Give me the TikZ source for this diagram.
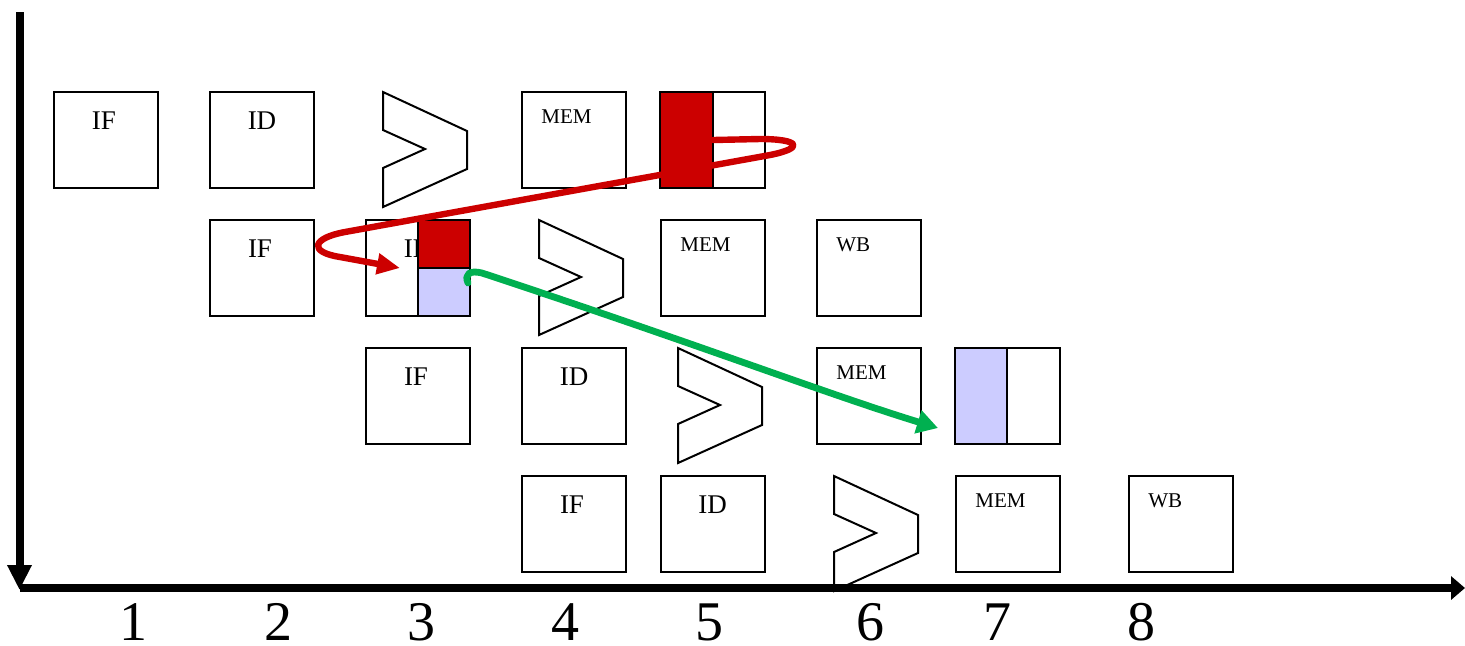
\documentclass[tikz,border=0pt]{standalone}
\usepackage{fontspec}
\setmainfont{Liberation Serif}
\usetikzlibrary{arrows.meta}
\definecolor{redc}{HTML}{CC0000}
\definecolor{bluec}{HTML}{CCCCFF}
\definecolor{greenc}{HTML}{00B050}
\tikzset{
  box/.style={draw, line width=1pt, minimum width=52pt, minimum height=48pt, inner sep=0pt, outer sep=0pt},
  half/.style={draw, line width=1pt, minimum width=26.5pt, minimum height=48pt, inner sep=0pt, outer sep=0pt},
  quarter/.style={draw, line width=1pt, minimum width=26pt, minimum height=24pt, inner sep=0pt, outer sep=0pt},
  big/.style={font=\fontsize{13.5}{13.5}\selectfont, anchor=base, inner sep=0pt},
  small/.style={font=\fontsize{10.5}{10.5}\selectfont, anchor=base west, inner sep=0pt},
  num/.style={font=\fontsize{28}{28}\selectfont, anchor=base, inner sep=0pt},
  axis/.style={line width=4pt},
  alu/.pic={\draw[line width=1pt, line join=miter] (0,0) -- (84,39) -- (84,77) -- (0,115) -- (0,76) -- (42,57) -- (0,38) -- cycle;}
}
\begin{document}
\begin{tikzpicture}[x=0.5pt, y=-0.5pt]
\useasboundingbox (0,0) rectangle (1465,645);
% axes
\coordinate (ytop) at (19.5,12);
\coordinate (origin) at (19.5,590);
\coordinate (xstart) at (20,588);
\coordinate (xend) at (1465,588);
\draw[axis, -{Triangle[length=12.5pt, width=11.5pt]}] (ytop) -- (origin);
\draw[axis, -{Triangle[length=7pt, width=11.5pt]}] (xstart) -- (xend);
% numbers
\node[num] (n1) at (133,640) {1};
\node[num] (n2) at (278,640) {2};
\node[num] (n3) at (421,640) {3};
\node[num] (n4) at (565,640) {4};
\node[num] (n5) at (709,640) {5};
\node[num] (n6) at (870,640) {6};
\node[num] (n7) at (997,640) {7};
\node[num] (n8) at (1141,640) {8};
% row 1
\node[box] (if1) at (106,140) {};
\node[big] (if1t) at (104,129) {IF};
\node[box] (id1) at (262,140) {};
\node[big] (id1t) at (262,129) {ID};
\pic at (383,92) {alu};
\node[box] (mem1) at (574,140) {};
\node[small] (mem1t) at (541,123) {MEM};
\node[box] (wb1) at (712.5,140) {};
\node[half, fill=redc] (red1) at (686.5,140) {};
% row 2
\node[box] (if2) at (262,268) {};
\node[big] (if2t) at (260,257) {IF};
\node[box] (id2) at (418,268) {};
\node[big] (id2t) at (418,257) {ID};
\node[quarter, fill=redc] (red2) at (444,244) {};
\node[quarter, fill=bluec] (blue2) at (444,292) {};
\pic at (539,220) {alu};
\node[box] (mem2) at (712.5,268) {};
\node[small] (mem2t) at (680,251) {MEM};
\node[box] (wb2) at (869,268) {};
\node[small] (wb2t) at (836,251) {WB};
% row 3
\node[box] (if3) at (418,396) {};
\node[big] (if3t) at (416,385) {IF};
\node[box] (id3) at (574,396) {};
\node[big] (id3t) at (574,385) {ID};
\pic at (678,348) {alu};
\node[box] (mem3) at (869,396) {};
\node[small] (mem3t) at (836,379) {MEM};
\node[box] (wb3) at (1007.5,396) {};
\node[half, minimum width=26pt, fill=bluec] (blue3) at (981,396) {};
% row 4
\node[box] (if4) at (574,524) {};
\node[big] (if4t) at (572,513) {IF};
\node[box] (id4) at (712.5,524) {};
\node[big] (id4t) at (712.5,513) {ID};
\pic at (834,476) {alu};
\node[box] (mem4) at (1007.5,524) {};
\node[small] (mem4t) at (975,507) {MEM};
\node[box] (wb4) at (1181,524) {};
\node[small] (wb4t) at (1148,507) {WB};
% forwarding arrows
\coordinate (redend) at (400,268);
\draw[redc, line width=3.2pt, line cap=round, line join=round, -{Triangle[length=11.5pt, width=10pt]}]
  (red1.east) -- (760,139) .. controls (800,139) and (805,148) .. (770,155)
  -- (345,232) .. controls (312,238) and (308,252) .. (340,257) -- (redend);
\coordinate (gstart) at (468,283);
\coordinate (gend) at (938,428);
\draw[greenc, line width=3.4pt, line cap=round, line join=round, -{Triangle[length=10.5pt, width=11.5pt]}]
  (gstart) .. controls (464,274) and (470,270) .. (482,273)
  .. controls (700,345) and (830,395) .. (gend);
\end{tikzpicture}
\end{document}
